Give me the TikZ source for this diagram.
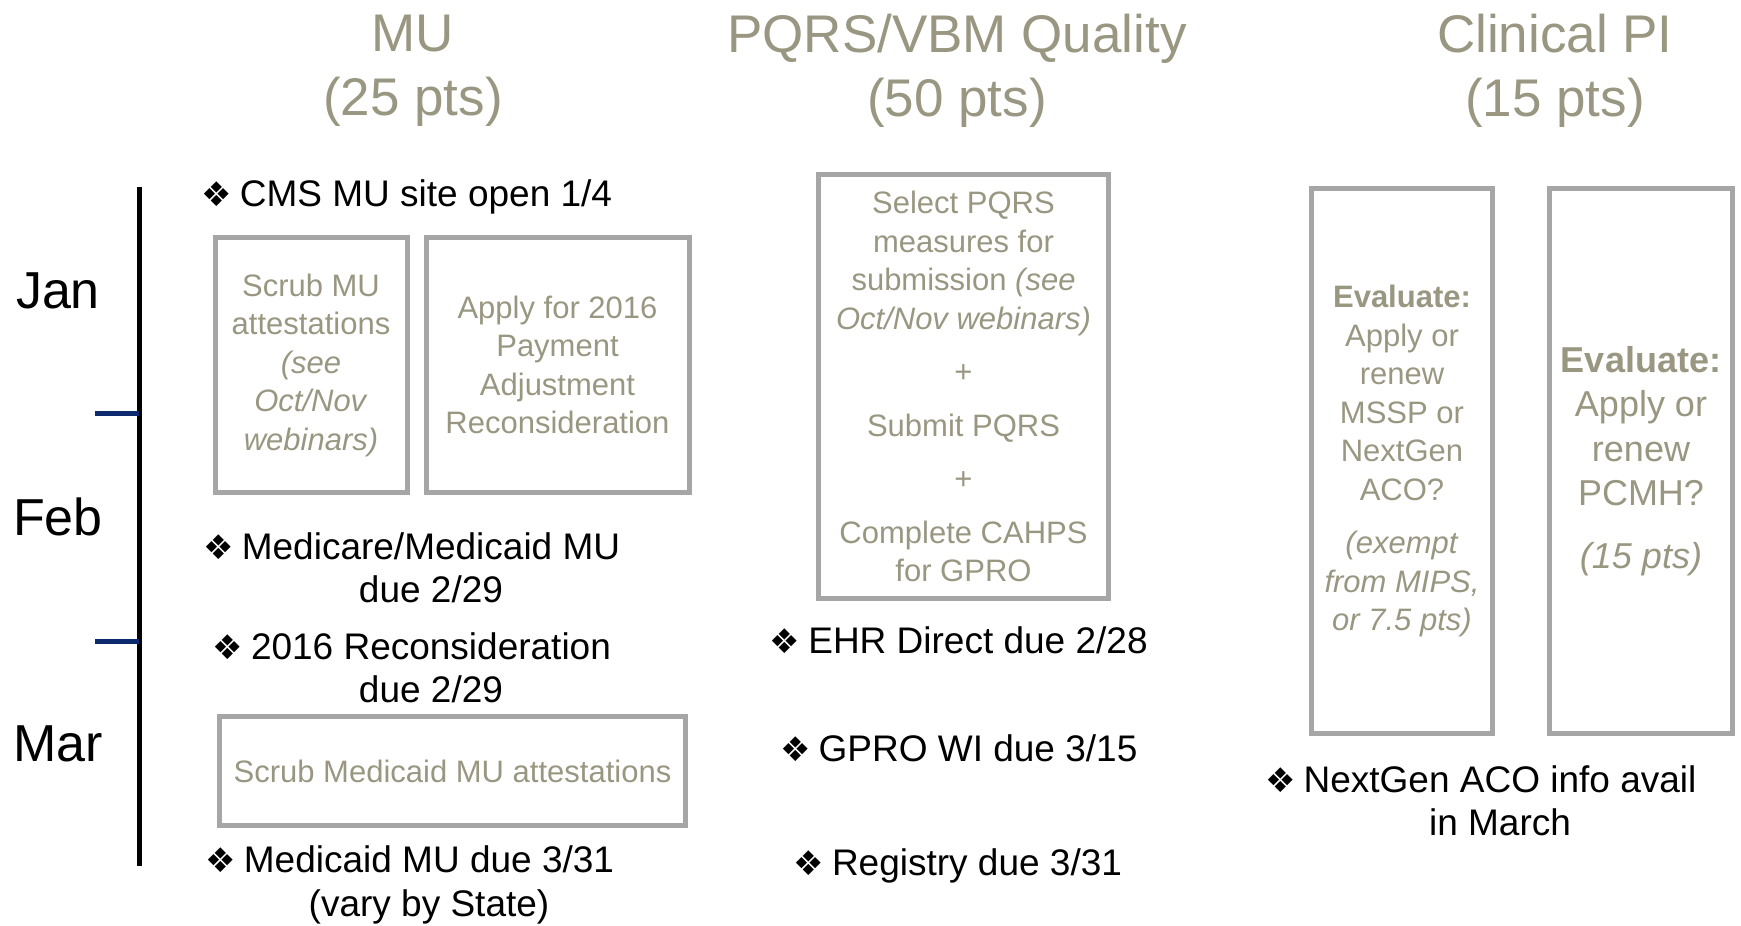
\documentclass[tikz,border=0pt]{standalone}
\usepackage{fontspec}
\setmainfont{Liberation Sans}
\newfontfamily\dingfont{DejaVu Sans}
\definecolor{olive}{HTML}{999781}
\definecolor{boxgray}{HTML}{A6A6A6}
\definecolor{navy}{HTML}{0E2A6E}
\newcommand\bul{\llap{{\dingfont\fontsize{34}{34}\selectfont ❖}\hspace{8pt}}}
\tikzset{
  head/.style={text=olive, align=center, font=\fontsize{53}{64}\selectfont},
  month/.style={font=\fontsize{52}{60}\selectfont},
  item/.style={align=center, inner sep=0pt, font=\fontsize{37}{43.5}\selectfont},
  task/.style={draw=boxgray, line width=5pt, text=olive, align=center, inner sep=0pt,
    font=\fontsize{31}{38.5}\selectfont},
}
\begin{document}
\begin{tikzpicture}[x=1pt,y=-1pt]
\useasboundingbox (0,0) rectangle (1741,926);

\node[head] (mu) at (413,71) {MU\\(25 pts)};
\node[head] (pqrs) at (957,71) {PQRS/VBM Quality\\(50 pts)};
\node[head] (clin) at (1555,71) {Clinical PI\\(15 pts)};

% timeline
\coordinate (ttop) at (139,187);
\coordinate (tbot) at (139,866);
\coordinate (feb) at (139,413);
\coordinate (febl) at (95,413);
\coordinate (mar) at (139,641);
\coordinate (marl) at (95,641);
\draw[line width=5pt] (ttop) -- (tbot);
\draw[navy, line width=5pt] (febl) -- (feb);
\draw[navy, line width=5pt] (marl) -- (mar);
\node[month] (jan) at (58,291) {Jan};
\node[month] (febm) at (58,517) {Feb};
\node[month] (marm) at (58,744) {Mar};

% MU
\node[item] (cms) at (426,197) {\bul CMS MU site open 1/4};
\node[task, minimum width=192, minimum height=255] (scrub) at (311,365)
  {Scrub MU\\attestations\\\textit{(see}\\\textit{Oct/Nov}\\\textit{webinars)}};
\node[task, minimum width=263, minimum height=255] (adjust) at (557.5,365)
  {Apply for 2016\\Payment\\Adjustment\\Reconsideration};
\node[item] (medicare) at (431,568) {\bul Medicare/Medicaid MU\\due 2/29};
\node[item] (recon) at (431,668) {\bul 2016 Reconsideration\\due 2/29};
\node[task, minimum width=466, minimum height=109] (scrubmcd) at (452.5,771)
  {Scrub Medicaid MU attestations};
\node[item] (medicaid) at (429,885) {\bul Medicaid MU due 3/31\\(vary by State)};

% PQRS/VBM
\node[task, minimum width=290, minimum height=424] (select) at (963.5,386.5)
  {Select PQRS\\measures for\\submission \textit{(see}\\\textit{Oct/Nov webinars)}\\[15pt]
   +\\[15pt]Submit PQRS\\[15pt]+\\[15pt]Complete CAHPS\\for GPRO};
\node[item] (ehr) at (978,640) {\bul EHR Direct due 2/28};
\node[item] (gpro) at (978,748) {\bul GPRO WI due 3/15};
\node[item] (registry) at (977,866) {\bul Registry due 3/31};

% Clinical PI
\node[task, minimum width=181, minimum height=545] (aco) at (1402,461)
  {\textbf{Evaluate:}\\Apply or\\renew\\MSSP or\\NextGen\\ACO?\\[15pt]
   \textit{(exempt}\\\textit{from MIPS,}\\\textit{or 7.5 pts)}};
\node[task, minimum width=183, minimum height=545, font=\fontsize{36}{44.5}\selectfont]
  (pcmh) at (1641,461)
  {\textbf{Evaluate:}\\Apply or\\renew\\PCMH?\\[18pt]\textit{(15 pts)}};
\node[item] (nextgen) at (1500,801) {\bul NextGen ACO info avail\\in March};
\end{tikzpicture}
\end{document}
